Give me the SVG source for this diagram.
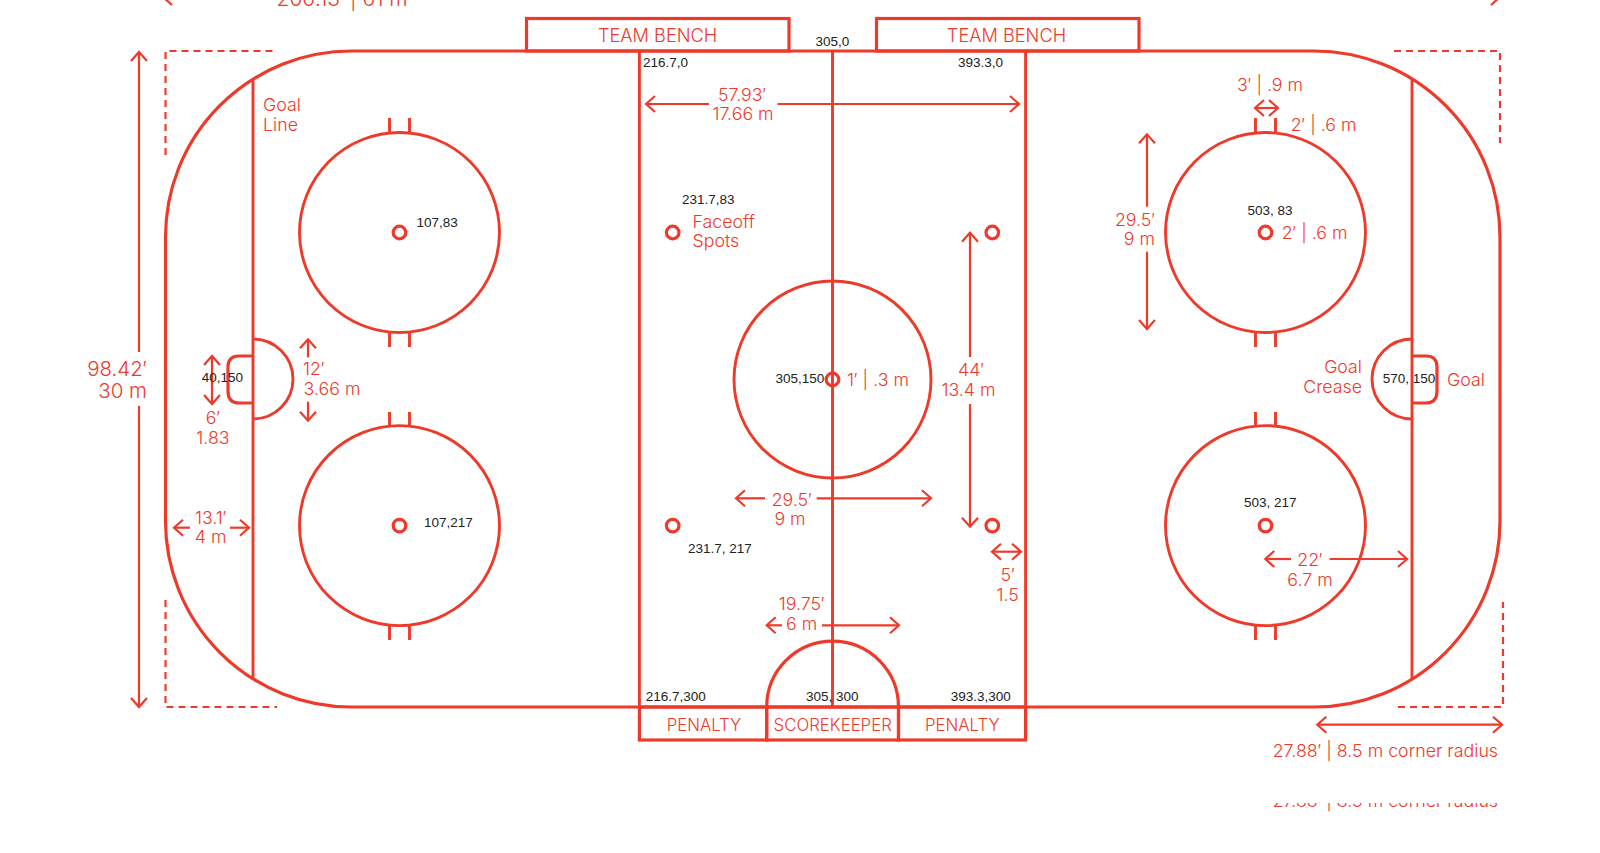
<svg xmlns="http://www.w3.org/2000/svg" width="1600" height="853" viewBox="0 0 1600 853">
<style>
.ln{fill:none;stroke:#ee3a2a;stroke-width:3.2}
.th{fill:none;stroke:#ee3a2a;stroke-width:2.9}
.fine{fill:none;stroke:#ee3a2a;stroke-width:2.2;marker-end:url(#ah)}
.both{marker-start:url(#ah)}
.dash{fill:none;stroke:#ee3a2a;stroke-width:2.2;stroke-dasharray:7 5}
text{font-family:"Inter","Liberation Sans",sans-serif;font-weight:300;fill:#ee3a2a;font-size:17.8px}
.c{font-family:"Liberation Sans",Arial,sans-serif;font-weight:400;fill:#222;font-size:13.5px}
.m{text-anchor:middle}
.e{text-anchor:end}
.lg{font-size:20.5px}
.b{font-size:18.2px}
.p{font-size:16.8px}
</style>
<defs>
<marker id="ah" markerUnits="userSpaceOnUse" markerWidth="24" markerHeight="24" refX="12" refY="12" orient="auto-start-reverse" viewBox="0 0 24 24"><path d="M3,4 L12,12 L3,20" fill="none" stroke="#ee3a2a" stroke-width="2.2"/></marker>
<clipPath id="cut"><rect x="1200" y="803" width="320" height="20"/></clipPath>
</defs>

<g id="rink">
<rect class="ln" x="165.5" y="51" width="1334.5" height="656" rx="186" ry="186"/>
<path class="th" d="M253,80V680M1412,80V680M639.4,51V707M1025.6,51V707M832.5,51V707"/>
</g>
<g id="team-bench-1"><rect class="ln" x="526.5" y="18.5" width="262.5" height="32.5"/><text class="m b" x="657.6" y="42">TEAM BENCH</text></g>
<g id="team-bench-2"><rect class="ln" x="876.5" y="18.5" width="262.5" height="32.5"/><text class="m b" x="1006.5" y="42">TEAM BENCH</text></g>
<g id="penalty-1"><rect class="ln" x="639.4" y="707" width="127.3" height="33"/><text class="m p" x="704" y="731">PENALTY</text></g>
<g id="scorekeeper"><rect class="ln" x="766.7" y="707" width="131.8" height="33"/><path class="ln" d="M766.7,707A65.8,65.8 0 0 1 898.5,707"/><text class="m p" x="832.7" y="731">SCOREKEEPER</text></g>
<g id="penalty-2"><rect class="ln" x="898.5" y="707" width="127.1" height="33"/><text class="m p" x="962.3" y="731">PENALTY</text></g>

<g id="circle-nw"><circle class="th" cx="399.5" cy="232.5" r="100"/><circle class="ln" cx="399.5" cy="232.5" r="6.3"/><path class="th" d="M389.5,118V133M409.5,118V133M389.5,332V347M409.5,332V347"/></g>
<g id="circle-sw"><circle class="th" cx="399.5" cy="525.6" r="100"/><circle class="ln" cx="399.5" cy="525.6" r="6.3"/><path class="th" d="M389.5,412V426M409.5,412V426M389.5,625V640M409.5,625V640"/></g>
<g id="circle-ne"><circle class="th" cx="1265.5" cy="232.5" r="100"/><circle class="ln" cx="1265.5" cy="232.5" r="6.3"/><path class="th" d="M1255.5,118V133M1275.5,118V133M1255.5,332V347M1275.5,332V347"/></g>
<g id="circle-se"><circle class="th" cx="1265.5" cy="525.6" r="100"/><circle class="ln" cx="1265.5" cy="525.6" r="6.3"/><path class="th" d="M1255.5,412V426M1275.5,412V426M1255.5,625V640M1275.5,625V640"/></g>
<g id="circle-center"><circle class="th" cx="832.5" cy="379.5" r="98.5"/><circle class="ln" cx="832.5" cy="379.5" r="6.3"/></g>
<g id="spots"><circle class="ln" cx="672.7" cy="232.5" r="6.3"/><circle class="ln" cx="992.3" cy="232.5" r="6.3"/><circle class="ln" cx="672.7" cy="525.6" r="6.3"/><circle class="ln" cx="992.3" cy="525.6" r="6.3"/></g>
<g id="goal-left"><path class="th" d="M253,339A40,40 0 0 1 253,419"/><path class="ln" d="M253,356H239Q228,356 228,367V391Q228,403 239,403H253"/></g>
<g id="goal-right"><path class="th" d="M1412,339A40,40 0 0 0 1412,419"/><path class="ln" d="M1412,356H1426Q1437,356 1437,367V391Q1437,403 1426,403H1412"/></g>

<g id="corner-guides">
<path class="dash" d="M165.5,155V51H277"/>
<path class="dash" d="M1394,51H1500V143"/>
<path class="dash" d="M165.5,600V707H277"/>
<path class="dash" d="M1398,707H1503V602"/>
</g>

<g id="connectors">
<path class="fine" d="M176,-3H163"/>
<path class="fine" d="M1490,-3H1500"/>
<path class="fine" d="M139,352V52"/>
<path class="fine" d="M139,406V707"/>
<path class="fine" d="M709,104H646"/>
<path class="fine" d="M777.5,104H1019"/>
<path class="fine both" d="M1255,108H1278"/>
<path class="fine" d="M1147,206.7V134.3"/>
<path class="fine" d="M1147,251.7V329"/>
<path class="fine both" d="M212,356V404"/>
<path class="fine" d="M308,357.3V339.3"/>
<path class="fine" d="M308,401.7V420.7"/>
<path class="fine" d="M190,527.7H174"/>
<path class="fine" d="M230,527.7H249"/>
<path class="fine" d="M765,498.3H736"/>
<path class="fine" d="M816.7,498.3H931"/>
<path class="fine" d="M970,357V232.7"/>
<path class="fine" d="M970,404V526.7"/>
<path class="fine both" d="M992,551.7H1021"/>
<path class="fine" d="M782,625.3H766.7"/>
<path class="fine" d="M822,625.3H899"/>
<path class="fine" d="M1291,559H1265.3"/>
<path class="fine" d="M1329.6,559H1407"/>
<path class="fine both" d="M1317.3,724.7H1502"/>
</g>

<g id="labels">
<text x="276.5" y="6" style="font-size:21px">200.13′ | 61 m</text>
<text class="e lg" x="147" y="375.5">98.42′</text><text class="e lg" x="147" y="397.5">30 m</text>
<text x="263" y="111">Goal</text><text x="263" y="131">Line</text>
<text class="m" x="742" y="101">57.93′</text><text class="m" x="743" y="120">17.66 m</text>
<text x="692.5" y="227.5">Faceoff</text><text x="692.5" y="247">Spots</text>
<text x="1237" y="91">3′ | .9 m</text>
<text x="1290.7" y="131">2′ | .6 m</text>
<text x="1281.7" y="239">2′ | .6 m</text>
<text class="e" x="1155" y="226">29.5′</text><text class="e" x="1155" y="245">9 m</text>
<text class="m" x="213" y="424">6′</text><text class="m" x="213" y="444">1.83</text>
<text x="303" y="375">12′</text><text x="303.6" y="395">3.66 m</text>
<text class="m" x="210.7" y="524">13.1′</text><text class="m" x="210.7" y="543">4 m</text>
<text class="m" x="791.7" y="505.5">29.5′</text><text class="m" x="790" y="525">9 m</text>
<text class="m" x="801.7" y="610">19.75′</text><text class="m" x="801.7" y="630">6 m</text>
<text class="m" x="1007.7" y="581">5′</text><text class="m" x="1007.7" y="600.7">1.5</text>
<text class="m" x="971" y="376">44′</text><text class="m" x="968.5" y="396">13.4 m</text>
<text x="847" y="386">1′ | .3 m</text>
<text class="e" x="1362" y="372.5">Goal</text><text class="e" x="1362" y="392.8">Crease</text>
<text x="1447" y="385.7">Goal</text>
<text class="m" x="1310" y="566">22′</text><text class="m" x="1310" y="586">6.7 m</text>
<text x="1272.7" y="757.3">27.88′ | 8.5 m corner radius</text>
<g clip-path="url(#cut)"><text x="1272.7" y="806.5">27.88′ | 8.5 m corner radius</text></g>
</g>
<g id="coordinates">
<text class="c m" x="832.5" y="46">305,0</text>
<text class="c" x="643" y="66.5">216.7,0</text>
<text class="c" x="958" y="66.5">393.3,0</text>
<text class="c" x="416.5" y="226.5">107,83</text>
<text class="c" x="682" y="204">231.7,83</text>
<text class="c" x="1247.5" y="215">503, 83</text>
<text class="c" x="201.7" y="382">40,150</text>
<text class="c" x="775.5" y="382.7">305,150</text>
<text class="c" x="1382.7" y="382.7">570, 150</text>
<text class="c" x="424" y="526.7">107,217</text>
<text class="c" x="688" y="552.7">231.7, 217</text>
<text class="c" x="1244" y="507">503, 217</text>
<text class="c" x="645.7" y="700.7">216.7,300</text>
<text class="c" x="806" y="700.7">305, 300</text>
<text class="c" x="950.7" y="700.7">393.3,300</text>
</g>
</svg>
